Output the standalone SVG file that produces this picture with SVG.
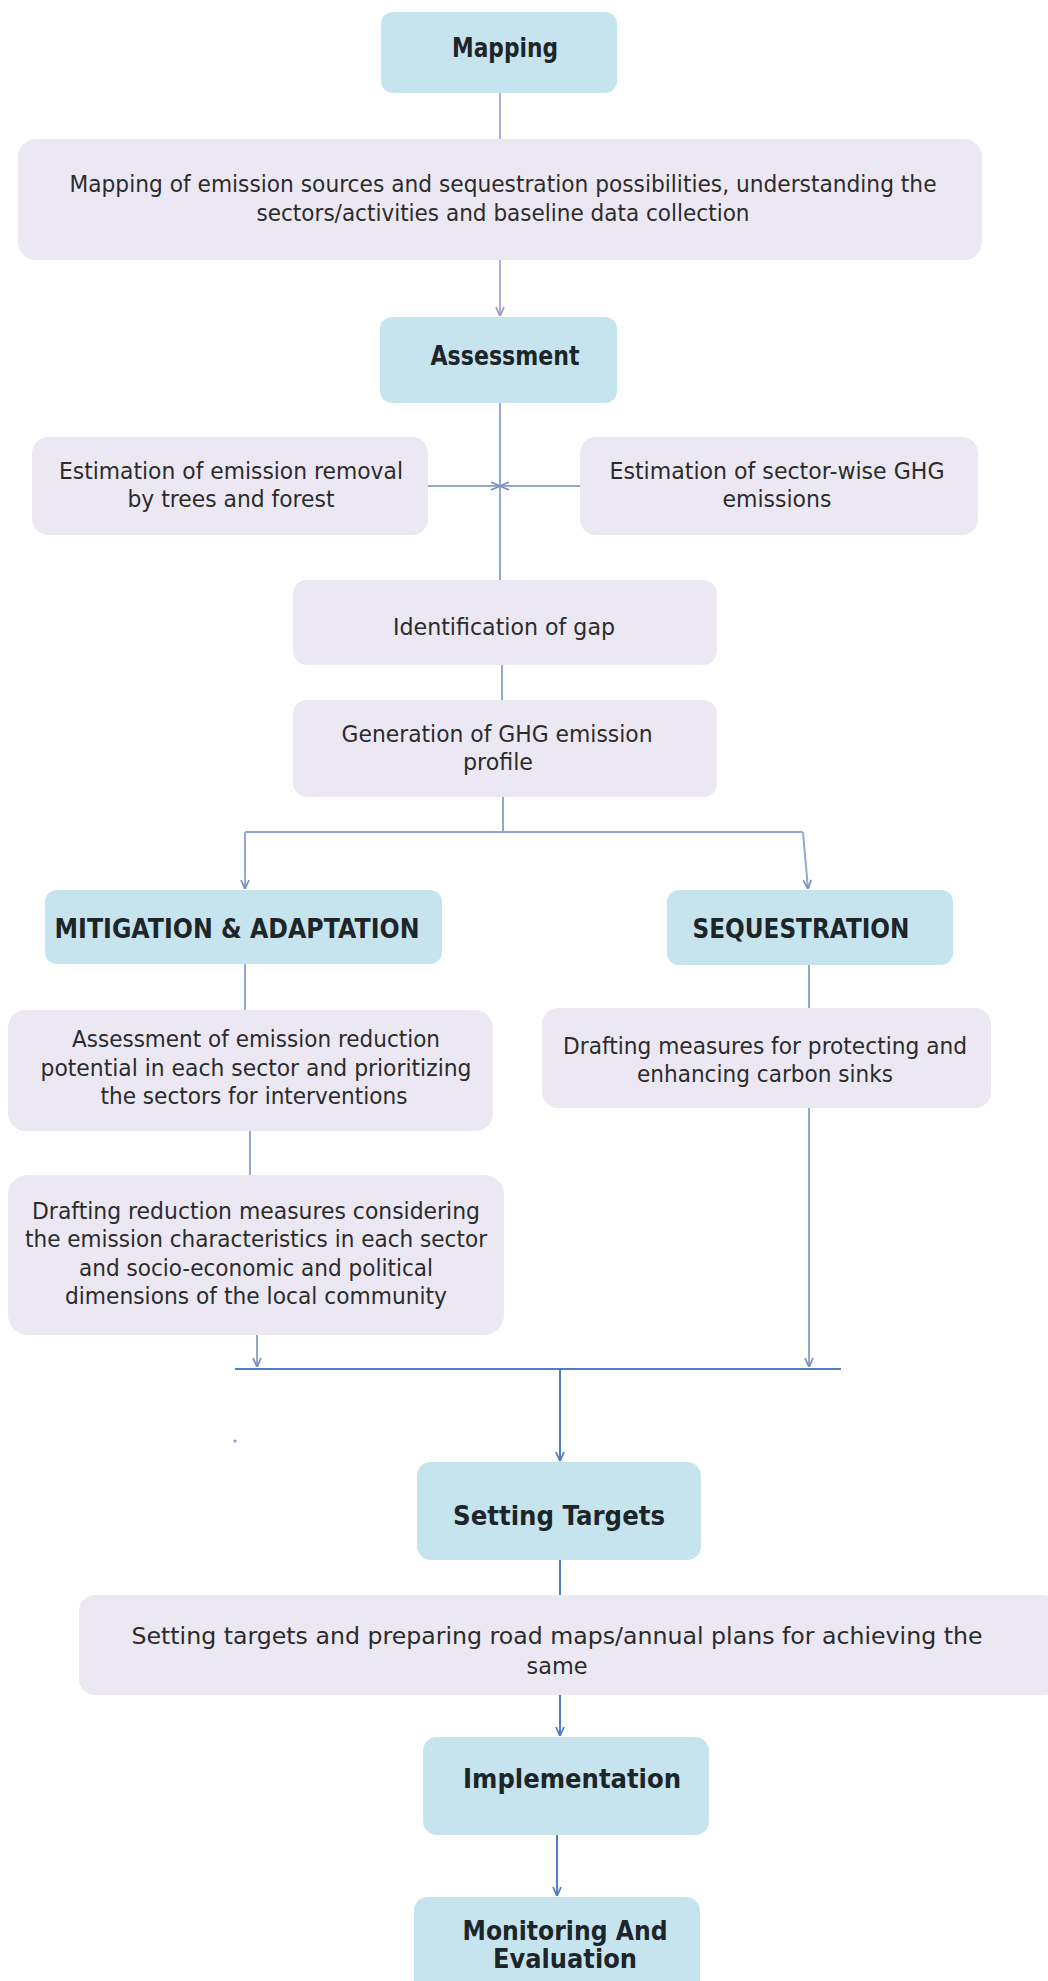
<svg xmlns="http://www.w3.org/2000/svg" width="1048" height="1981" viewBox="0 0 1048 1981">
<defs>
<style>
.b{fill:#c6e4ee}
.l{fill:#ece8f3}
.t{font-family:"DejaVu Sans","Verdana",sans-serif;font-size:23px;fill:#2b2b2b;text-anchor:middle}
.h{font-family:"DejaVu Sans","Verdana",sans-serif;font-size:26px;font-weight:bold;fill:#1e2528;text-anchor:middle}
.c1{stroke:#b3aed6;stroke-width:2;fill:none}
.c2{stroke:#94a7cd;stroke-width:2;fill:none}
.c3{stroke:#4f7fc0;stroke-width:2;fill:none}
</style>
<marker id="a1" viewBox="0 0 10 10" refX="10" refY="5" markerWidth="10" markerHeight="10" markerUnits="userSpaceOnUse" orient="auto"><path d="M1,1 L10,5 L1,9" fill="none" stroke="#9c98c8" stroke-width="1.8"/></marker>
<marker id="a2" viewBox="0 0 10 10" refX="10" refY="5" markerWidth="10" markerHeight="10" markerUnits="userSpaceOnUse" orient="auto"><path d="M1,1 L10,5 L1,9" fill="none" stroke="#7b8fc0" stroke-width="1.8"/></marker>
<marker id="a3" viewBox="0 0 10 10" refX="10" refY="5" markerWidth="10" markerHeight="10" markerUnits="userSpaceOnUse" orient="auto"><path d="M1,1 L10,5 L1,9" fill="none" stroke="#4f7fc0" stroke-width="1.8"/></marker>
</defs>
<rect width="1048" height="1981" fill="#ffffff"/>
<g id="connectors">
<path class="c1" d="M500,93 V139"/>
<path class="c1" d="M500,260 V316" marker-end="url(#a1)"/>
<path class="c2" d="M500,403 V580"/>
<path class="c2" d="M428,486 H500" marker-end="url(#a2)"/>
<path class="c2" d="M580,486 H500" marker-end="url(#a2)"/>
<path class="c2" d="M502,665 V700"/>
<path class="c2" d="M503,797 V832"/>
<path class="c2" d="M245,832 H803"/>
<path class="c2" d="M245,832 V889" marker-end="url(#a2)"/>
<path class="c2" d="M803,832 L808,889" marker-end="url(#a2)"/>
<path class="c2" d="M245,964 V1010"/>
<path class="c2" d="M250,1131 V1175"/>
<path class="c2" d="M809,965 V1008"/>
<path class="c2" d="M809,1108 V1367" marker-end="url(#a2)"/>
<path class="c2" d="M257,1335 V1367" marker-end="url(#a2)"/>
<path class="c3" d="M235,1369 H841" stroke-width="2.6"/>
<path class="c3" d="M560,1369 V1461" marker-end="url(#a3)"/>
<path class="c3" d="M560,1560 V1595"/>
<path class="c3" d="M560,1695 V1736" marker-end="url(#a3)"/>
<path class="c3" d="M557,1835 V1896" marker-end="url(#a3)"/>
<circle cx="235" cy="1441" r="1.6" fill="#7d9bd6"/>
</g>
<g id="mapping">
<rect class="b" x="381" y="12" width="236" height="81" rx="12"/>
<text class="h" x="505" y="57" textLength="106" lengthAdjust="spacingAndGlyphs">Mapping</text>
</g>
<g id="mapping-desc">
<rect class="l" x="18" y="139" width="964" height="121" rx="18"/>
<text class="t" x="503" y="192" textLength="867" lengthAdjust="spacingAndGlyphs">Mapping of emission sources and sequestration possibilities, understanding the</text>
<text class="t" x="503" y="221" textLength="493" lengthAdjust="spacingAndGlyphs">sectors/activities and baseline data collection</text>
</g>
<g id="assessment">
<rect class="b" x="380" y="317" width="237" height="86" rx="12"/>
<text class="h" x="505" y="365" textLength="149" lengthAdjust="spacingAndGlyphs">Assessment</text>
</g>
<g id="est-removal">
<rect class="l" x="32" y="437" width="396" height="98" rx="16"/>
<text class="t" x="231" y="479" textLength="344" lengthAdjust="spacingAndGlyphs">Estimation of emission removal</text>
<text class="t" x="231" y="507" textLength="207" lengthAdjust="spacingAndGlyphs">by trees and forest</text>
</g>
<g id="est-emissions">
<rect class="l" x="580" y="437" width="398" height="98" rx="16"/>
<text class="t" x="777" y="479" textLength="335" lengthAdjust="spacingAndGlyphs">Estimation of sector-wise GHG</text>
<text class="t" x="777" y="507" textLength="109" lengthAdjust="spacingAndGlyphs">emissions</text>
</g>
<g id="gap">
<rect class="l" x="293" y="580" width="424" height="85" rx="14"/>
<text class="t" x="504" y="635" textLength="222" lengthAdjust="spacingAndGlyphs">Identification of gap</text>
</g>
<g id="profile">
<rect class="l" x="293" y="700" width="424" height="97" rx="14"/>
<text class="t" x="497" y="742" textLength="311" lengthAdjust="spacingAndGlyphs">Generation of GHG emission</text>
<text class="t" x="498" y="770" textLength="70" lengthAdjust="spacingAndGlyphs">profile</text>
</g>
<g id="mitigation">
<rect class="b" x="45" y="890" width="397" height="74" rx="12"/>
<text class="h" x="237" y="938" textLength="365" lengthAdjust="spacingAndGlyphs">MITIGATION &amp; ADAPTATION</text>
</g>
<g id="sequestration">
<rect class="b" x="667" y="890" width="286" height="75" rx="12"/>
<text class="h" x="801" y="938" textLength="217" lengthAdjust="spacingAndGlyphs">SEQUESTRATION</text>
</g>
<g id="reduction-potential">
<rect class="l" x="8" y="1010" width="485" height="121" rx="18"/>
<text class="t" x="256" y="1047" textLength="368" lengthAdjust="spacingAndGlyphs">Assessment of emission reduction</text>
<text class="t" x="256" y="1076" textLength="431" lengthAdjust="spacingAndGlyphs">potential in each sector and prioritizing</text>
<text class="t" x="254" y="1104" textLength="307" lengthAdjust="spacingAndGlyphs">the sectors for interventions</text>
</g>
<g id="sink-measures">
<rect class="l" x="542" y="1008" width="449" height="100" rx="16"/>
<text class="t" x="765" y="1054" textLength="404" lengthAdjust="spacingAndGlyphs">Drafting measures for protecting and</text>
<text class="t" x="765" y="1082" textLength="256" lengthAdjust="spacingAndGlyphs">enhancing carbon sinks</text>
</g>
<g id="reduction-measures">
<rect class="l" x="8" y="1175" width="496" height="160" rx="20"/>
<text class="t" x="256" y="1219" textLength="448" lengthAdjust="spacingAndGlyphs">Drafting reduction measures considering</text>
<text class="t" x="256" y="1247" textLength="462" lengthAdjust="spacingAndGlyphs">the emission characteristics in each sector</text>
<text class="t" x="256" y="1276" textLength="354" lengthAdjust="spacingAndGlyphs">and socio-economic and political</text>
<text class="t" x="256" y="1304" textLength="382" lengthAdjust="spacingAndGlyphs">dimensions of the local community</text>
</g>
<g id="setting-targets">
<rect class="b" x="417" y="1462" width="284" height="98" rx="14"/>
<text class="h" x="559" y="1525" textLength="212" lengthAdjust="spacingAndGlyphs">Setting Targets</text>
</g>
<g id="targets-desc">
<rect class="l" x="79" y="1595" width="980" height="100" rx="16"/>
<text class="t" x="557" y="1644" textLength="851" lengthAdjust="spacingAndGlyphs">Setting targets and preparing road maps/annual plans for achieving the</text>
<text class="t" x="557" y="1674" textLength="61" lengthAdjust="spacingAndGlyphs">same</text>
</g>
<g id="implementation">
<rect class="b" x="423" y="1737" width="286" height="98" rx="14"/>
<text class="h" x="572" y="1788" textLength="218" lengthAdjust="spacingAndGlyphs">Implementation</text>
</g>
<g id="monitoring">
<rect class="b" x="414" y="1897" width="286" height="100" rx="14"/>
<text class="h" x="565" y="1940" textLength="205" lengthAdjust="spacingAndGlyphs">Monitoring And</text>
<text class="h" x="565" y="1968" textLength="144" lengthAdjust="spacingAndGlyphs">Evaluation</text>
</g>
</svg>
